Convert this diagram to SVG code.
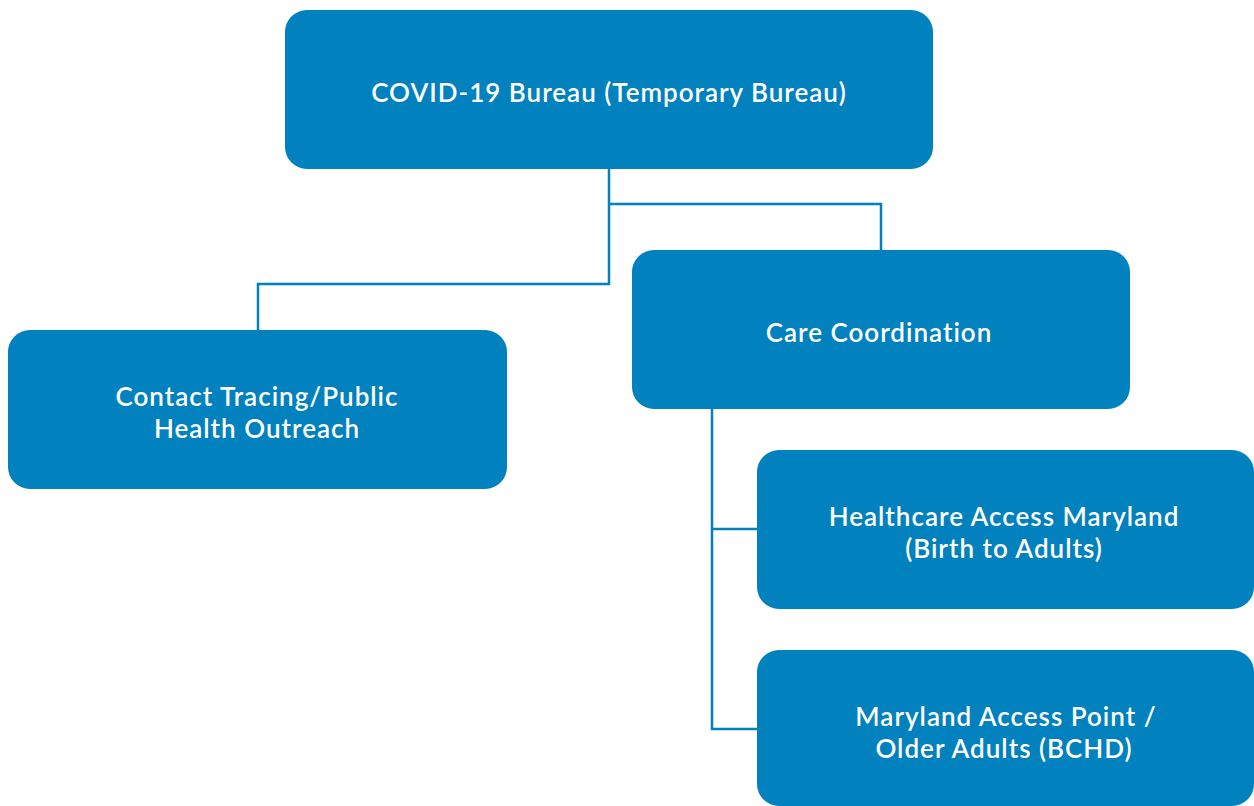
<svg xmlns="http://www.w3.org/2000/svg" width="1254" height="806" viewBox="0 0 1254 806">
<style>
.box{fill:#0181BE;}
.lbl{fill:#ffffff;font-family:Lato,"Open Sans","Liberation Sans",sans-serif;font-size:26px;font-weight:600;letter-spacing:1px;text-anchor:middle;}
.conn{fill:none;stroke:#0181BE;stroke-width:2.5;}
</style>
<rect width="1254" height="806" fill="#ffffff"/>
<g id="connectors">
<path class="conn" d="M609,169 V284 H258 V330"/>
<path class="conn" d="M609,204 H881 V250"/>
<path class="conn" d="M712,409 V729 H757"/>
<path class="conn" d="M712,529 H757"/>
</g>
<g id="covid-bureau">
<rect class="box" x="285" y="10" width="648" height="159" rx="22"/>
<text class="lbl" x="609" y="102">COVID-19 Bureau (Temporary Bureau)</text>
</g>
<g id="contact-tracing">
<rect class="box" x="8" y="330" width="499" height="159" rx="22"/>
<text class="lbl" x="257" y="406">Contact Tracing/Public</text>
<text class="lbl" x="257" y="438">Health Outreach</text>
</g>
<g id="care-coordination">
<rect class="box" x="632" y="250" width="498" height="159" rx="22"/>
<text class="lbl" x="879" y="342">Care Coordination</text>
</g>
<g id="healthcare-access">
<rect class="box" x="757" y="450" width="497" height="159" rx="22"/>
<text class="lbl" x="1004" y="526">Healthcare Access Maryland</text>
<text class="lbl" x="1004" y="558">(Birth to Adults)</text>
</g>
<g id="maryland-access-point">
<rect class="box" x="757" y="650" width="497" height="156" rx="22"/>
<text class="lbl" x="1006" y="726">Maryland Access Point /</text>
<text class="lbl" x="1004" y="758">Older Adults (BCHD)</text>
</g>
</svg>
